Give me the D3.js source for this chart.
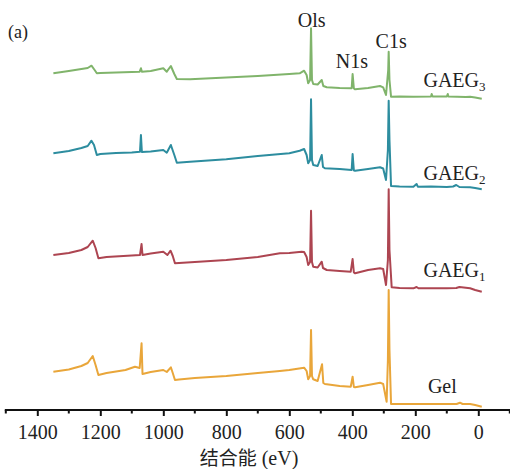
<!DOCTYPE html>
<html><head><meta charset="utf-8">
<script src="https://cdn.jsdelivr.net/npm/d3@7"></script>
<style>
html,body{margin:0;padding:0;background:#fff;}
svg{display:block;}
</style></head>
<body>
<svg id="chart" width="510" height="469"></svg>
<script>
// Binding energy (eV) vs intensity (a.u., stacked with offsets)
const seriesNames = ["Gel", "GAEG1", "GAEG2", "GAEG3"];
const seriesColors = ["#e9a63a", "#ad4551", "#2d8d9f", "#80b46b"];

const gelData = [[1349,37.3],[1300,39.5],[1260,43],[1240,46],[1224,53],[1215,44],[1206,34],[1180,36],[1120,39],[1090,42.3],[1075,41],[1069,65.7],[1066,35],[1040,37],[1000,39],[989,37],[976,41.7],[970,36],[963,29],[950,29.5],[900,31],[800,33],[700,36],[630,38],[600,39],[553,41.3],[545,38],[540,29.7],[534,33],[531,79],[528,33],[524,29.7],[510,28],[496,44.7],[492,26],[487,25],[440,23],[405,22.3],[399,32.3],[395,22],[391,21.7],[350,24],[312,26.3],[302,25],[291,7.3],[287,49],[284.5,119],[282,59],[277,5],[250,5],[150,5],[69,5],[58,6.3],[50,5],[26,5],[10,4],[-11,2.3]];

const gaeg1Data = [[1349,154],[1300,156],[1260,159],[1240,162],[1224,168.3],[1215,161],[1206,150.7],[1180,152],[1100,153.5],[1074,154],[1069,165],[1066,154],[1040,155.5],[1000,157.3],[987,154],[977,158.3],[970,153],[963,145.7],[950,146],[900,147],[800,149],[700,152],[630,155.7],[600,156],[561,157.3],[553,157],[545,152],[540,144],[534,147],[531,198.3],[528,147],[524,142.3],[510,141.5],[497,147.3],[493,141],[481,139],[440,138],[405,137.3],[399,150],[395,136.5],[391,135.7],[350,139],[312,140.7],[302,140],[293,124],[287,149],[284.5,219.7],[282,159],[275,121.7],[250,121],[206,120.7],[196,122],[190,120.7],[100,120.7],[70,121],[60,122],[26,120.7],[10,119],[-11,117.3]];

const gaeg2Data = [[1349,255.7],[1300,258],[1260,261],[1240,263],[1228,268.3],[1220,264],[1211,254],[1200,255],[1150,256],[1100,256.5],[1074,257.3],[1071,274],[1068,257],[1040,257.5],[1000,259],[989,256.3],[976,264],[965,254],[957,246.3],[915,247.3],[800,249.7],[700,253],[600,255.7],[567,258.3],[553,260],[545,254],[540,245.7],[534,249],[531,309.7],[528,249],[524,244],[510,243],[497,254],[493,242],[487,240.7],[440,240],[402,239],[399,255],[395,238.5],[391,238.3],[350,240],[312,241.7],[302,240.5],[293,229],[287,259],[284.5,308.3],[282,269],[277,223],[250,222.5],[206,222.3],[196,225],[192,222.3],[150,222.5],[100,222],[80,222.5],[70,224],[60,222],[26,221.7],[10,221],[-11,219.7]];

const gaeg3Data = [[1349,335.7],[1300,338],[1250,340.5],[1240,341],[1228,343.3],[1218,339],[1211,335.7],[1200,336],[1150,336.5],[1100,337],[1075,337.3],[1071,340.7],[1068,337.3],[1040,338],[1000,340.7],[989,337.3],[976,343],[965,335],[957,330],[915,329.7],[800,331.5],[700,333],[600,335],[567,335.7],[553,338.3],[545,334],[540,325.7],[534,329],[531,380.7],[528,329],[524,325],[510,324.5],[497,329],[492,323],[481,321.7],[440,321],[402,320.7],[399,335],[395,320.5],[391,319.7],[350,321],[312,323],[302,321.7],[293,314],[286,339],[284.5,357.3],[282,329],[277,312.3],[250,312.5],[206,312.3],[150,312.5],[148,315],[145,312.5],[100,312.5],[97,315],[95,312.5],[40,312],[26,312.3],[10,311.5],[-11,310.3]];

const allData = [gelData, gaeg1Data, gaeg2Data, gaeg3Data];

const xTicks = [1400, 1200, 1000, 800, 600, 400, 200, 0];
const xMinorTicks = [1500, 1300, 1100, 900, 700, 500, 300, 100, -100];

const peakLabels = ["Ols", "N1s", "C1s"];
const peakEnergies = [531, 399, 284.5];
const peakLabelHeights = [382.3, 340.7, 360.7];

const seriesLabelMain = ["Gel", "GAEG", "GAEG", "GAEG"];
const seriesLabelSub = ["", "1", "2", "3"];
const seriesLabelLevels = [16, 132, 229, 322];
const seriesLabelEnergy = [160, 174, 174, 174];

const SERIF = '"Liberation Serif", "Times New Roman", serif';
const svg = d3.select("#chart");
const x = d3.scaleLinear().domain([1500, -100]).range([5.8, 509.8]);
const y = d3.scaleLinear().domain([0, 400]).range([409, 9]);

// lines
const line = d3.line().x(d => x(d[0])).y(d => y(d[1]));
svg.append("g").selectAll("path").data(allData).join("path")
  .attr("d", line)
  .attr("fill", "none")
  .attr("stroke", (d, i) => seriesColors[i])
  .attr("stroke-width", 2)
  .attr("stroke-linejoin", "round");

// axis
const axisG = svg.append("g").attr("transform", `translate(0,${y(0)+1})`);
axisG.call(d3.axisBottom(x).tickValues(xTicks).tickSize(6).tickPadding(9).tickSizeOuter(0).tickFormat(d3.format("d")));
axisG.attr("font-family", null);
axisG.select(".domain").attr("stroke", "#111").attr("stroke-width", 2).attr("d", `M${x(1500)-1},0H510`);
axisG.selectAll(".tick line").attr("stroke", "#111").attr("stroke-width", 2);
axisG.selectAll(".tick text").attr("fill", "#222")
  .style("font-family", SERIF).style("font-size", "20px");
axisG.selectAll(".minor").data(xMinorTicks).join("line").attr("class", "minor")
  .attr("x1", d => x(d)).attr("x2", d => x(d)).attr("y1", 0).attr("y2", 3.5)
  .attr("stroke", "#111").attr("stroke-width", 2);

// axis title
const title = svg.append("text").attr("x", 249).attr("y", 465).attr("text-anchor", "middle")
  .style("font-size", "19px").attr("fill", "#222");
title.append("tspan").style("font-family", '"Noto Sans CJK SC", sans-serif').text("结合能");
title.append("tspan").style("font-family", SERIF).style("font-size", "20px").text(" (eV)");

// panel label
svg.append("text").attr("x", 8).attr("y", 38).style("font-family", SERIF).style("font-size", "18px")
  .attr("fill", "#222").text("(a)");

// peak labels
svg.append("g").selectAll("text").data(peakLabels).join("text")
  .attr("x", (d, i) => x(peakEnergies[i]) + (i === 2 ? 2.5 : i === 0 ? 0.7 : -0.8))
  .attr("y", (d, i) => y(peakLabelHeights[i]))
  .attr("text-anchor", "middle").style("font-family", SERIF).style("font-size", "20px")
  .attr("fill", "#222").text(d => d);

// series labels
const sl = svg.append("g").selectAll("text").data(seriesLabelMain).join("text")
  .attr("x", (d, i) => x(seriesLabelEnergy[i]))
  .attr("y", (d, i) => y(seriesLabelLevels[i]))
  .style("font-family", SERIF).style("font-size", "20px").attr("fill", "#222");
sl.append("tspan").text(d => d);
sl.append("tspan").style("font-size", "13px").attr("dy", 4).text((d, i) => seriesLabelSub[i]);
</script>
</body></html>
